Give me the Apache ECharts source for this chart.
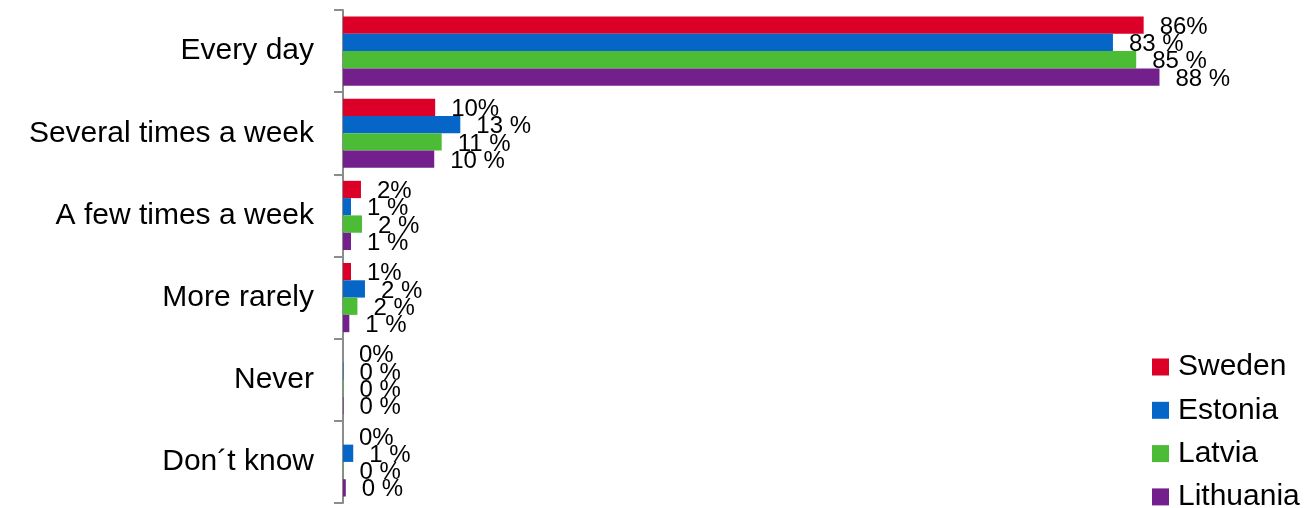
<!DOCTYPE html>
<html>
<head>
<meta charset="utf-8">
<script src="https://cdn.jsdelivr.net/npm/echarts@6/dist/echarts.min.js"></script>
<style>
html,body{margin:0;padding:0;background:#fff;}
#chart{width:1308px;height:508px;}
</style>
</head>
<body>
<div id="chart"></div>
<script>
var categories = ['Every day', 'Several times a week', 'A few times a week', 'More rarely', 'Never', 'Don\u00b4t know'];
var seriesNames = ['Sweden', 'Estonia', 'Latvia', 'Lithuania'];
var sweden    = [86,   9.9,  1.93, 0.86, 0,    0];
var estonia   = [82.7, 12.6, 0.86, 2.36, 0.05, 1.1];
var latvia    = [85.2, 10.6, 2.04, 1.55, 0.05, 0.05];
var lithuania = [87.7, 9.8,  0.86, 0.68, 0.05, 0.3];
var colors = ['#DC0028', '#0566C8', '#4CBB35', '#73208C'];

var FONT = '"Liberation Sans", Arial, sans-serif';
var allData = [sweden, estonia, latvia, lithuania];

var series = allData.map(function (d, i) {
  return {
    name: seriesNames[i],
    type: 'bar',
    data: d,
    barWidth: 17.3,
    barGap: '0%',
    itemStyle: { color: colors[i] },
    label: {
      show: true,
      position: 'right',
      distance: 16,
      color: '#000',
      fontSize: 24,
      fontFamily: FONT,
      offset: [0, 2],
      formatter: function (p) {
        var v = Math.round(p.value);
        return i === 0 ? v + '%' : v + ' %';
      }
    }
  };
});

var chart = echarts.init(document.getElementById('chart'), null, { renderer: 'canvas' });
chart.setOption({
  animation: false,
  backgroundColor: '#fff',
  grid: { left: 343, right: 34, top: 10, bottom: 5, containLabel: false },
  legend: {
    orient: 'vertical',
    left: 1152,
    top: 352,
    height: 250,
    padding: 0,
    itemWidth: 17,
    itemHeight: 17,
    itemGap: 13.3,
    icon: 'rect',
    textStyle: { fontSize: 30, fontFamily: FONT, color: '#000', padding: [0, 0, 0, 4] },
    data: seriesNames
  },
  xAxis: {
    type: 'value',
    min: 0,
    max: 100,
    show: false
  },
  yAxis: {
    type: 'category',
    inverse: true,
    data: categories,
    axisLine: { show: true, lineStyle: { color: '#8C8C8C', width: 2 } },
    axisTick: { show: true, length: 9, lineStyle: { color: '#8C8C8C', width: 2 } },
    axisLabel: { margin: 29, fontSize: 30, fontFamily: FONT, color: '#000' }
  },
  series: series
});
</script>
</body>
</html>
